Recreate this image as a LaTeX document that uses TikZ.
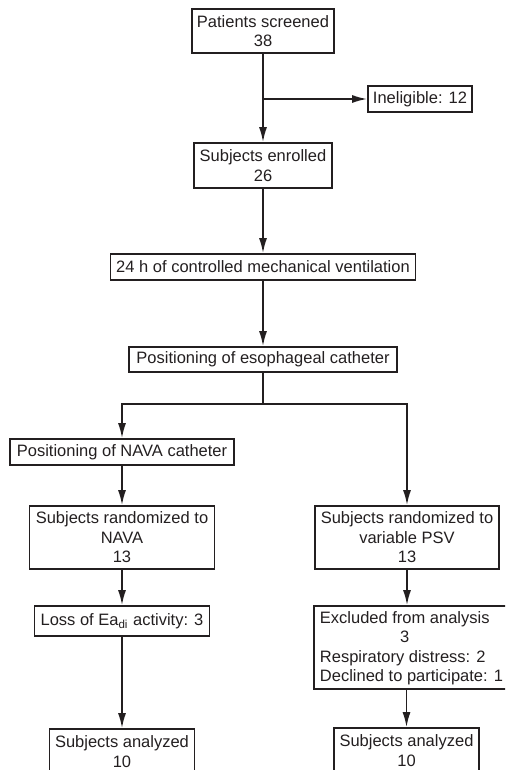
\documentclass[tikz,border=0pt]{standalone}
\usepackage{fontspec}
\setmainfont{Liberation Sans}
\usetikzlibrary{arrows.meta}
\definecolor{inkgray}{HTML}{231F20}
\tikzset{
flowbox/.style 2 args={
  draw=inkgray,
  line width=0.85pt,
  text=inkgray,
  font=\fontsize{8.25pt}{9.75pt}\selectfont,
  align=center,
  inner sep=0pt,
  minimum width=#1,
  minimum height=#2
  },
flowarrow/.style={
  ->,
  draw=inkgray,
  line width=0.85pt
  }
}

\begin{document}
\begin{tikzpicture}[x=0.5pt,y=-0.5pt,>={Latex[length=7.5pt,width=4pt]}]

\useasboundingbox (0,0) rectangle (505,770);
\clip (0,0) rectangle (505,770);

\node[flowbox={71pt}{22pt}] (screened) at (263,31) {Patients screened\\38};
\node[flowbox={52pt}{13pt}] (inelig) at (420,99) {Ineligible: 12};
\node[flowbox={69pt}{22.5pt}] (enrolled) at (263,165.5) {Subjects enrolled\\26};
\node[flowbox={152.5pt}{13pt}] (cmv) at (263,267) {24 h of controlled mechanical ventilation};
\node[flowbox={134pt}{12.5pt}] (esoph) at (263,359.5) {Positioning of esophageal catheter};
\coordinate (split) at (263,404);

% NAVA arm
\node[flowbox={112pt}{13pt}] (navacath) at (122,452) {Positioning of NAVA catheter};
\node[flowbox={92.5pt}{31.5pt}] (randnava) at (122,537.5) {Subjects randomized to\\NAVA\\13};
\node[flowbox={87.5pt}{15pt}] (loss) at (122,621) {Loss of Ea\textsubscript{di} activity: 3};
\node[flowbox={72.5pt}{22.5pt}] (analyzedL) at (122,751.5) {Subjects analyzed\\10};

% PSV arm
\node[flowbox={92pt}{31.5pt}] (randpsv) at (407,537.5) {Subjects randomized to\\variable PSV\\13};
\node[flowbox={97.5pt}{41.5pt},align=left] (excluded) at (411.5,647.5)
  {\begin{tabular}[b]{@{}c@{}}Excluded from analysis\\3\end{tabular}\\Respiratory distress: 2\\Declined to participate: 1};
\node[flowbox={72.5pt}{22.5pt}] (analyzedR) at (406.5,750.5) {Subjects analyzed\\10};

\draw[flowarrow] (screened) -- (enrolled);
\draw[flowarrow] (screened.south |- inelig.west) -- (inelig.west);
\draw[flowarrow] (enrolled) -- (cmv);
\draw[flowarrow] (cmv) -- (esoph);
\draw[flowarrow] (esoph.south) -- (split) -| (navacath.north);
\draw[flowarrow] (split) -| (randpsv.north);

\draw[flowarrow] (navacath) -- (randnava);
\draw[flowarrow] (randnava) -- (loss);
\draw[flowarrow] (loss) -- (analyzedL);

\draw[flowarrow] (randpsv.south) -- (randpsv.south |- excluded.north);
\draw[flowarrow] (excluded.south -| analyzedR.north) -- (analyzedR.north);

\end{tikzpicture}
\end{document}
